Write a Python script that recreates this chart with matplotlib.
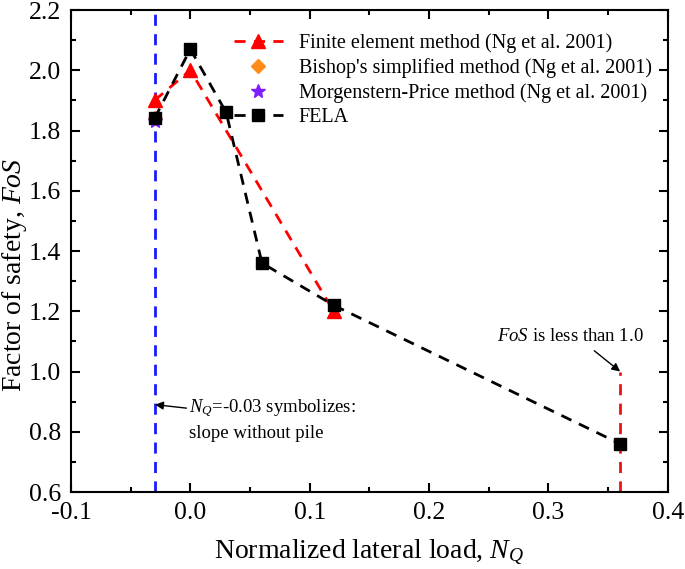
import matplotlib
matplotlib.use("Agg")
import matplotlib.pyplot as plt
from matplotlib.ticker import MultipleLocator

plt.rcParams['font.family'] = ['Liberation Serif', 'DejaVu Serif']
plt.rcParams['mathtext.fontset'] = 'custom'
plt.rcParams['mathtext.rm'] = 'Liberation Serif'
plt.rcParams['mathtext.it'] = 'Liberation Serif:italic'

fela_x = [-0.03, 0.0, 0.03, 0.06, 0.12, 0.36]
fela_y = [1.84, 2.07, 1.86, 1.36, 1.22, 0.76]
fem_x = [-0.03, 0.0, 0.12]
fem_y = [1.90, 2.00, 1.20]
bishop_x = [-0.03]
bishop_y = [1.84]
mp_x = [-0.03]
mp_y = [1.83]

fig = plt.figure(figsize=(6.85, 5.69), dpi=100)
ax = fig.add_axes([0.1036, 0.1353, 0.8714, 0.8471])

dash = (0, (4, 3))
ax.axvline(-0.03, color='#1a1aff', lw=2.0, linestyle=dash, zorder=1)
ax.plot([0.36, 0.36], [0.6, 1.0], color='#f01010', lw=2.0, linestyle=dash, zorder=1)

ax.plot(fem_x, fem_y, color='#ff0000', lw=2.0, linestyle=dash, marker='^',
        markersize=10, label='Finite element method (Ng et al. 2001)', zorder=3)
ax.plot(bishop_x, bishop_y, color='#ff8c1a', linestyle='none', marker='D',
        markersize=7, label="Bishop's simplified method (Ng et al. 2001)", zorder=2)
ax.plot(mp_x, mp_y, color='#7f1fff', linestyle='none', marker='*',
        markersize=10, label='Morgenstern-Price method (Ng et al. 2001)', zorder=2)
ax.plot(fela_x, fela_y, color='black', lw=2.0, linestyle=dash, marker='s',
        markersize=8, label='FELA', zorder=4)

ax.set_xlim(-0.1, 0.4)
ax.set_ylim(0.6, 2.2)
ax.xaxis.set_major_locator(MultipleLocator(0.1))
ax.xaxis.set_minor_locator(MultipleLocator(0.05))
ax.yaxis.set_major_locator(MultipleLocator(0.2))
ax.yaxis.set_minor_locator(MultipleLocator(0.1))
ax.xaxis.set_major_formatter(matplotlib.ticker.FormatStrFormatter('%.1f'))
ax.yaxis.set_major_formatter(matplotlib.ticker.FormatStrFormatter('%.1f'))
ax.tick_params(which='both', direction='in', top=True, right=True, width=1.5)
ax.tick_params(which='major', length=6.5, labelsize=18.5, pad=7)
ax.tick_params(which='minor', length=3.5)
for s in ax.spines.values():
    s.set_linewidth(1.5)

ax.set_xlabel('Normalized lateral load, $N_Q$', fontsize=20)
ax.set_ylabel('Factor of safety, $FoS$', fontsize=20)
ax.xaxis.set_label_coords(0.5, -0.096)
ax.yaxis.set_label_coords(-0.07, 0.45)

leg = ax.legend(loc='upper right', frameon=False, fontsize=14.5,
                bbox_to_anchor=(1.0, 0.985), handlelength=2.4, labelspacing=0.25,
                borderaxespad=0.4)

ax.annotate('$FoS$ is less than 1.0', xy=(0.36, 1.0), xytext=(0.318, 1.115),
            fontsize=13.5, ha='center', va='center',
            arrowprops=dict(arrowstyle='-|>', color='black', lw=1.0,
                            mutation_scale=12, shrinkA=3, shrinkB=0,
                            relpos=(0.62, 0)))
ax.annotate('$N_Q$=-0.03 symbolizes:\nslope without pile', xy=(-0.0295, 0.89),
            xytext=(-0.001, 0.84), fontsize=13.5, ha='left', va='center',
            linespacing=1.5,
            arrowprops=dict(arrowstyle='-|>', color='black', lw=1.0,
                            mutation_scale=12, shrinkA=0, shrinkB=0,
                            relpos=(0, 0.75)))

fig.savefig('out.png', dpi=100)
